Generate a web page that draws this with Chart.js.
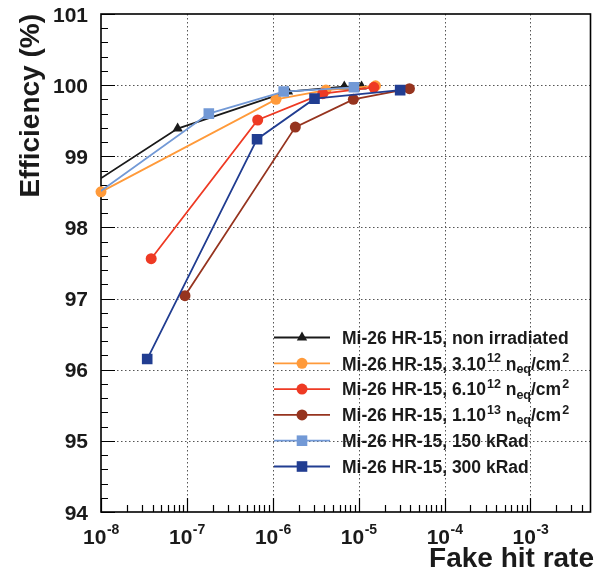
<!DOCTYPE html>
<html>
<head>
<meta charset="utf-8">
<script src="https://cdn.jsdelivr.net/npm/chart.js@4/dist/chart.umd.min.js"></script>
<style>
html,body{margin:0;padding:0;background:#ffffff;}
canvas{display:block;}
</style>
</head>
<body>
<canvas id="c" width="598" height="574"></canvas>
<script>
// ---------------- data ----------------
const xNonIrr = [7e-9, 7.8e-8, 1.5e-6, 6.8e-6, 1.08e-5];
const yNonIrr = [98.57, 99.39, 99.91, 99.98, 99.98];

const x3e12 = [1.0e-8, 1.09e-6, 4.16e-6, 1.57e-5];
const y3e12 = [98.50, 99.80, 99.93, 99.99];

const x6e12 = [3.84e-8, 6.67e-7, 3.81e-6, 1.5e-5];
const y6e12 = [97.56, 99.51, 99.88, 99.97];

const x1e13 = [9.5e-8, 1.83e-6, 8.67e-6, 3.9e-5];
const y1e13 = [97.04, 99.41, 99.80, 99.95];

const x150k = [8e-9, 1.8e-7, 1.34e-6, 8.8e-6];
const y150k = [98.43, 99.60, 99.91, 99.97];

const x300k = [3.45e-8, 6.56e-7, 3.06e-6, 3.04e-5];
const y300k = [96.15, 99.24, 99.81, 99.93];

const seriesNames = [
  "Mi-26 HR-15, non irradiated",
  "Mi-26 HR-15, 3.10^12 n_eq/cm^2",
  "Mi-26 HR-15, 6.10^12 n_eq/cm^2",
  "Mi-26 HR-15, 1.10^13 n_eq/cm^2",
  "Mi-26 HR-15, 150 kRad",
  "Mi-26 HR-15, 300 kRad"
];
// legend text split into normal / superscript / subscript pieces
const legendParts = [
  [["Mi-26 HR-15, non irradiated", "n"]],
  [["Mi-26 HR-15, 3.10", "n"], ["12", "sup"], [" n", "n"], ["eq", "sub"], ["/cm", "n"], ["2", "sup"]],
  [["Mi-26 HR-15, 6.10", "n"], ["12", "sup"], [" n", "n"], ["eq", "sub"], ["/cm", "n"], ["2", "sup"]],
  [["Mi-26 HR-15, 1.10", "n"], ["13", "sup"], [" n", "n"], ["eq", "sub"], ["/cm", "n"], ["2", "sup"]],
  [["Mi-26 HR-15, 150 kRad", "n"]],
  [["Mi-26 HR-15, 300 kRad", "n"]]
];
const seriesColors = ["#1a1a1a", "#ff9a3a", "#ee3a24", "#96341f", "#7299d6", "#213d91"];
const seriesMarkers = ["triangle", "circle", "circle", "circle", "rect", "rect"];
const seriesX = [xNonIrr, x3e12, x6e12, x1e13, x150k, x300k];
const seriesY = [yNonIrr, y3e12, y6e12, y1e13, y150k, y300k];

const xTickExponents = [-8, -7, -6, -5, -4, -3];
const yTickLabels = [94, 95, 96, 97, 98, 99, 100, 101];
const xTitle = "Fake hit rate";
const yTitle = "Efficiency (%)";

// ---------------- chart ----------------
const FONT = '"Liberation Sans", Arial, Helvetica, sans-serif';
const X_MIN = 1e-8, X_MAX = 5e-3, Y_MIN = 94, Y_MAX = 101;

const markerRadius = { triangle: 6, circle: 5.5, rect: 7.5 };

const datasets = seriesNames.map((name, i) => ({
  label: name,
  data: seriesX[i].map((xv, k) => ({ x: xv, y: seriesY[i][k] })),
  borderColor: seriesColors[i],
  backgroundColor: seriesColors[i],
  pointBackgroundColor: seriesColors[i],
  pointBorderColor: seriesColors[i],
  pointBorderWidth: 0,
  pointStyle: seriesMarkers[i],
  pointRadius: markerRadius[seriesMarkers[i]],
  pointHoverRadius: markerRadius[seriesMarkers[i]],
  borderWidth: 1.8,
  tension: 0,
  fill: false,
  order: 10 - i,
  clip: (seriesX[i][0] < X_MIN) ? 0 : 10
}));

function drawMarker(ctx, style, r, x, y, color) {
  ctx.save();
  ctx.fillStyle = color;
  ctx.beginPath();
  if (style === 'circle') {
    ctx.arc(x, y, r, 0, Math.PI * 2);
  } else if (style === 'rect') {
    const s = r * Math.SQRT1_2;
    ctx.rect(x - s, y - s, 2 * s, 2 * s);
  } else if (style === 'triangle') {
    for (let k = 0; k < 3; k++) {
      const a = k * 2 * Math.PI / 3;
      const px = x + Math.sin(a) * r, py = y - Math.cos(a) * r;
      if (k === 0) ctx.moveTo(px, py); else ctx.lineTo(px, py);
    }
    ctx.closePath();
  }
  ctx.fill();
  ctx.restore();
}

const rootFrame = {
  id: 'rootFrame',
  beforeDatasetsDraw(chart) {
    const { ctx, chartArea: a, scales } = chart;
    const xs = scales.x, ys = scales.y;
    ctx.save();
    // dotted grid
    ctx.strokeStyle = '#555';
    ctx.lineWidth = 1;
    ctx.setLineDash([1.5, 2.5]);
    ctx.beginPath();
    xTickExponents.forEach(e => {
      const px = Math.round(xs.getPixelForValue(Math.pow(10, e))) + 0.5;
      if (px > a.left + 2 && px < a.right - 2) { ctx.moveTo(px, a.top); ctx.lineTo(px, a.bottom); }
    });
    yTickLabels.forEach(v => {
      const py = Math.round(ys.getPixelForValue(v)) + 0.5;
      if (py > a.top + 2 && py < a.bottom - 2) { ctx.moveTo(a.left, py); ctx.lineTo(a.right, py); }
    });
    ctx.stroke();
    ctx.setLineDash([]);

    // tick marks
    ctx.strokeStyle = '#000';
    ctx.lineWidth = 1.2;
    ctx.beginPath();
    const nY = Math.round((Y_MAX - Y_MIN) / 0.2);
    for (let k = 0; k <= nY; k++) {
      const v = Y_MIN + k * 0.2;
      const py = Math.round(ys.getPixelForValue(v)) + 0.5;
      const len = (k % 5 === 0) ? 14 : 7;
      ctx.moveTo(a.left, py); ctx.lineTo(a.left + len, py);
    }
    for (let e = -8; e <= -3; e++) {
      for (let m = 1; m <= 9; m++) {
        const v = m * Math.pow(10, e);
        if (v > X_MAX * 0.999) continue;
        const px = Math.round(xs.getPixelForValue(v)) + 0.5;
        const len = (m === 1) ? 14 : 7;
        ctx.moveTo(px, a.bottom); ctx.lineTo(px, a.bottom - len);
      }
    }
    ctx.stroke();

    // frame
    ctx.lineWidth = 1.6;
    ctx.strokeStyle = '#000';
    ctx.strokeRect(a.left, a.top, a.right - a.left, a.bottom - a.top);
    ctx.restore();
  },
  afterDraw(chart) {
    const { ctx, chartArea: a, scales } = chart;
    const xs = scales.x, ys = scales.y;
    ctx.save();
    ctx.fillStyle = '#1a1a1a';

    // y tick labels
    ctx.font = 'bold 21px ' + FONT;
    ctx.textAlign = 'right';
    ctx.textBaseline = 'alphabetic';
    yTickLabels.forEach(v => {
      const py = ys.getPixelForValue(v);
      ctx.fillText(String(v), a.left - 13, py + 7.5);
    });

    // x tick labels 10^e
    ctx.textAlign = 'left';
    xTickExponents.forEach(e => {
      const px = xs.getPixelForValue(Math.pow(10, e));
      ctx.font = 'bold 21px ' + FONT;
      const w1 = ctx.measureText('10').width;
      ctx.font = 'bold 14px ' + FONT;
      const w2 = ctx.measureText(String(e)).width;
      const x0 = px - (w1 + w2) / 2;
      ctx.font = 'bold 21px ' + FONT;
      ctx.fillText('10', x0, a.bottom + 31.5);
      ctx.font = 'bold 14px ' + FONT;
      ctx.fillText(String(e), x0 + w1 + 0.5, a.bottom + 22);
    });

    // axis titles
    ctx.font = 'bold 28px ' + FONT;
    ctx.textAlign = 'right';
    ctx.fillText(xTitle, 594, 567);
    ctx.save();
    ctx.translate(39, a.top);
    ctx.rotate(-Math.PI / 2);
    ctx.textAlign = 'right';
    ctx.fillText(yTitle, 0, 0);
    ctx.restore();

    // legend
    const lx0 = 274, lx1 = 330, mx = 302, tx = 342, ly0 = 337.5, dy = 25.8;
    legendParts.forEach((parts, i) => {
      const cy = ly0 + i * dy;
      const col = seriesColors[i];
      ctx.strokeStyle = col;
      ctx.lineWidth = 1.8;
      ctx.beginPath();
      ctx.moveTo(lx0, cy); ctx.lineTo(lx1, cy);
      ctx.stroke();
      drawMarker(ctx, seriesMarkers[i], markerRadius[seriesMarkers[i]], mx, cy, col);
      let x = tx;
      ctx.textAlign = 'left';
      ctx.fillStyle = '#1a1a1a';
      parts.forEach(([txt, kind]) => {
        if (kind === 'n') {
          ctx.font = 'bold 17.5px ' + FONT;
          ctx.fillText(txt, x, cy + 6.3);
        } else if (kind === 'sup') {
          ctx.font = 'bold 12.5px ' + FONT;
          x += 1;
          ctx.fillText(txt, x, cy - 1);
        } else {
          ctx.font = 'bold 12.5px ' + FONT;
          ctx.fillText(txt, x, cy + 9.5);
        }
        x += ctx.measureText(txt).width;
      });
    });
    ctx.restore();
  }
};

new Chart(document.getElementById('c'), {
  type: 'line',
  data: { datasets },
  options: {
    responsive: false,
    devicePixelRatio: 1,
    animation: false,
    layout: { padding: { left: 101, right: 2, top: 14, bottom: 62 } },
    scales: {
      x: { type: 'logarithmic', min: X_MIN, max: X_MAX, display: false },
      y: { type: 'linear', min: Y_MIN, max: Y_MAX, display: false }
    },
    plugins: { legend: { display: false }, tooltip: { enabled: false } }
  },
  plugins: [rootFrame]
});
</script>
</body>
</html>
